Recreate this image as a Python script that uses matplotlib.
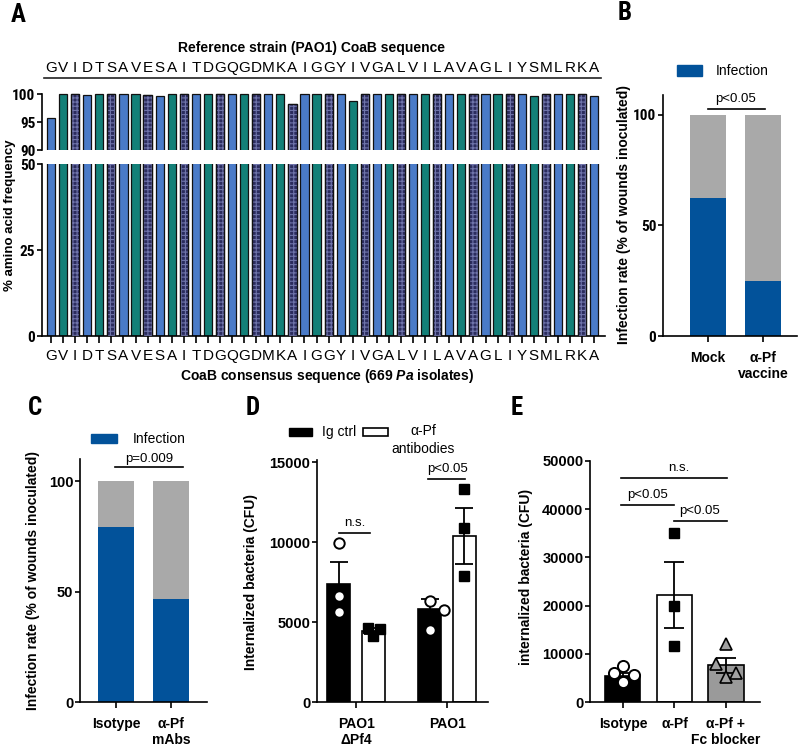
import matplotlib
matplotlib.use('Agg')
import matplotlib.pyplot as plt
from matplotlib.patches import Rectangle
from matplotlib.transforms import blended_transform_factory
from matplotlib import font_manager as fm
import numpy as np

plt.rcParams['font.family'] = ['Liberation Sans', 'DejaVu Sans']
plt.rcParams['font.weight'] = 'bold'
plt.rcParams['mathtext.fontset'] = 'custom'
plt.rcParams['mathtext.it'] = 'Liberation Sans:italic:bold'
plt.rcParams['mathtext.rm'] = 'Liberation Sans:bold'
plt.rcParams['hatch.linewidth'] = 0.8
plt.rcParams['axes.linewidth'] = 1.2

_avail = {f.name for f in fm.fontManager.ttflist}
NARROW = None
for cand in ['Liberation Sans Narrow', 'Roboto Condensed', 'Noto Sans Condensed',
             'Open Sans Condensed', 'DejaVu Sans Condensed']:
    if cand in _avail:
        NARROW = cand
        break
if NARROW is not None:
    NARROW_FAM = [NARROW, 'Liberation Sans', 'DejaVu Sans']
    NARROW_FS = 11
else:
    NARROW_FAM = ['Liberation Sans', 'DejaVu Sans']
    NARROW_FS = 9.5
REG_FAM = ['Liberation Sans', 'DejaVu Sans']

# ---------------- data ----------------
coab_sequence = list("GVIDTSAVESAITDGQGDMKAIGGYIVGALVILAVAGLIYSMLRKA")
aa_frequency = [95.8, 100, 100, 99.8, 100, 100, 100, 100, 99.8, 99.6,
                100, 100, 100, 100, 100, 100, 100, 100, 100, 100,
                98.2, 100, 100, 100, 100, 98.8, 100, 100, 100, 100,
                100, 100, 100, 100, 100, 100, 100, 100, 100, 100,
                99.7, 100, 100, 100, 100, 99.7]

b_groups = ['Mock', 'α-Pf\nvaccine']
b_infection = [62.5, 25.0]

c_groups = ['Isotype', 'α-Pf\nmAbs']
c_infection = [79.3, 46.7]

d_groups = ['PAO1\nΔPf4', 'PAO1']
d_ctrl_mean = [7400, 5800]
d_ctrl_sem = [1350, 650]
d_ctrl_points = [[9950, 6650, 5600], [6300, 5750, 4500]]
d_apf_mean = [4450, 10400]
d_apf_sem = [200, 1750]
d_apf_points = [[4650, 4550, 4150], [13300, 10900, 7900]]

e_groups = ['Isotype', 'α-Pf', 'α-Pf +\nFc blocker']
e_mean = [5300, 22100, 7600]
e_sem = [700, 6850, 1550]
e_points = [[7400, 6000, 5600, 4150], [35000, 20000, 11600], [12100, 7800, 6000, 5200]]

# ---------------- layout helpers ----------------
W, H = 800, 747
fig = plt.figure(figsize=(W / 100, H / 100), dpi=100)


def add_ax(x0, y0, x1, y1):
    return fig.add_axes([x0 / W, 1 - y1 / H, (x1 - x0) / W, (y1 - y0) / H])


def ftext(x, y, s, **kw):
    kw.setdefault('ha', 'center')
    kw.setdefault('va', 'center')
    return fig.text(x / W, 1 - y / H, s, **kw)


def frect(x0, y0, x1, y1, **kw):
    fig.add_artist(Rectangle((x0 / W, 1 - y1 / H), (x1 - x0) / W, (y1 - y0) / H,
                             transform=fig.transFigure, **kw))


def style_ax(ax, fam=None, fs=None):
    fam = NARROW_FAM if fam is None else fam
    fs = NARROW_FS if fs is None else fs
    for s in ('top', 'right'):
        ax.spines[s].set_visible(False)
    ax.tick_params(axis='both', width=1.2, direction='out')
    ax.tick_params(axis='y', pad=1.0, length=3.8, labelsize=fs, labelfontfamily=fam[0])
    ax.tick_params(axis='x', pad=6, labelsize=10, length=4.5)


BLUE_A = '#4a7bc8'
TEAL_A = '#138078'
CHECK_BG = '#2b2c5e'
CHECK_FG = '#6f74ab'
INF_BLUE = '#02529a'
GRAY = '#a9a9a9'

# ---------------- Panel A ----------------
x = np.arange(len(coab_sequence))
axT = add_ax(42, 93, 605, 150)
axB = add_ax(42, 164, 605, 336)
bw = 0.68
face = [BLUE_A if i % 3 == 0 else (TEAL_A if i % 3 == 1 else CHECK_BG) for i in x]
chk = [i for i in x if i % 3 == 2]
for ax in (axT, axB):
    ax.bar(x, aa_frequency, width=bw, color=face, edgecolor='#111111', linewidth=0.9, zorder=2)
    ax.bar(chk, [aa_frequency[i] for i in chk], width=bw, color=CHECK_BG,
           edgecolor=CHECK_FG, hatch='++++', linewidth=0, zorder=3)
    ax.bar(chk, [aa_frequency[i] for i in chk], width=bw, fill=False,
           edgecolor='#111111', linewidth=0.9, zorder=4)
    ax.set_xlim(-0.75, 45.9)

axT.set_ylim(90, 100.18)
axT.spines['left'].set_bounds(90, 100)
axT.spines['bottom'].set_visible(False)
axT.set_xticks([])
axT.set_yticks([90, 95, 100])
style_ax(axT)

axB.set_ylim(0, 50)
axB.set_yticks([0, 25, 50])
axB.set_xticks(x)
axB.set_xticklabels(coab_sequence, fontweight='normal')
style_ax(axB)
axB.tick_params(axis='x', length=5, pad=4, labelsize=11)

trT = blended_transform_factory(axT.transData, fig.transFigure)
for i, aa in enumerate(coab_sequence):
    axT.text(i, 1 - 68 / H, aa, transform=trT, ha='center', va='center',
             fontsize=11, fontweight='normal')
axT.plot([-0.6, 45.6], [1 - 78 / H, 1 - 78 / H], transform=trT, color='#222222',
         lw=1.2, clip_on=False)

ftext(18, 15, 'A', fontsize=18, family=NARROW_FAM)
ftext(312, 48, 'Reference strain (PAO1) CoaB sequence', fontsize=10)
ftext(327, 376, r'CoaB consensus sequence (669 $\it{Pa}$ isolates)', fontsize=10)
ftext(10, 215, '% amino acid frequency', fontsize=9.5, rotation=90)

# ---------------- Panel B ----------------
axBb = add_ax(663, 95, 797, 336)
xb = np.arange(len(b_groups))
axBb.bar(xb, b_infection, width=0.67, color=INF_BLUE, zorder=2)
axBb.bar(xb, [100 - v for v in b_infection], bottom=b_infection, width=0.67, color=GRAY, zorder=2)
axBb.set_xlim(-0.818, 1.62)
axBb.set_ylim(0, 109)
axBb.set_yticks([0, 50, 100])
axBb.set_xticks(xb)
axBb.set_xticklabels(b_groups, linespacing=1.25)
style_ax(axBb)
axBb.plot([0, 1.04], [102.8, 102.8], color='black', lw=1.2, clip_on=False)
axBb.text(0.5, 104.5, 'p<0.05', ha='center', va='bottom', fontsize=9.5, fontweight='normal')
frect(677, 65, 702, 76, color=INF_BLUE)
ftext(716, 71, 'Infection', ha='left', fontsize=10, fontweight='normal')
ftext(625, 13, 'B', fontsize=18, family=NARROW_FAM)
ftext(624, 215, 'Infection rate (% of wounds inoculated)', fontsize=10, rotation=90)

# ---------------- Panel C ----------------
axC = add_ax(80, 459, 207, 702)
xc = np.arange(len(c_groups))
axC.bar(xc, c_infection, width=0.65, color=INF_BLUE, zorder=2)
axC.bar(xc, [100 - v for v in c_infection], bottom=c_infection, width=0.65, color=GRAY, zorder=2)
axC.set_xlim(-0.655, 1.655)
axC.set_ylim(0, 110)
axC.set_yticks([0, 50, 100])
axC.set_xticks(xc)
axC.set_xticklabels(c_groups, linespacing=1.25)
style_ax(axC, REG_FAM, 10.5)
axC.plot([-0.02, 1.22], [106.3, 106.3], color='black', lw=1.2, clip_on=False)
axC.text(0.6, 107.5, 'p=0.009', ha='center', va='bottom', fontsize=9.5, fontweight='normal')
frect(91, 434, 117, 443, color=INF_BLUE)
ftext(133, 439, 'Infection', ha='left', fontsize=10, fontweight='normal')
ftext(35, 408, 'C', fontsize=18, family=NARROW_FAM)
ftext(33, 580, 'Infection rate (% of wounds inoculated)', fontsize=10, rotation=90)

# ---------------- Panel D ----------------
axD = add_ax(317, 460, 488, 702)
xd = np.arange(len(d_groups))
off = 0.19
dw = 0.255
axD.bar(xd - off, d_ctrl_mean, width=dw, color='black', edgecolor='black', lw=1.2, zorder=2)
axD.bar(xd + off, d_apf_mean, width=dw, color='white', edgecolor='black', lw=1.2, zorder=2)
axD.errorbar(xd - off, d_ctrl_mean, yerr=d_ctrl_sem, fmt='none', ecolor='black',
             elinewidth=1.3, capsize=6.5, capthick=1.3, zorder=3)
axD.errorbar(xd + off, d_apf_mean, yerr=d_apf_sem, fmt='none', ecolor='black',
             elinewidth=1.3, capsize=6.5, capthick=1.3, zorder=3)
ctrl_jit = [[0, 0, 0], [0, 0.154, 0]]
apf_jit = [[-0.06, 0.07, 0], [0, 0, 0]]
for g in range(len(d_groups)):
    axD.plot([g - off + j for j in ctrl_jit[g]], d_ctrl_points[g], 'o', ms=7.5, mfc='white',
             mec='black', mew=1.4, zorder=4, clip_on=False)
    axD.plot([g + off + j for j in apf_jit[g]], d_apf_points[g], 's', ms=6.5, mfc='black',
             mec='black', zorder=4, clip_on=False)
axD.set_xlim(-0.43, 1.45)
axD.set_ylim(0, 15125)
axD.set_yticks([0, 5000, 10000, 15000])
axD.set_xticks(xd)
axD.set_xticklabels(d_groups, linespacing=1.25)
style_ax(axD, REG_FAM, 10.5)
axD.plot([-0.19, 0.15], [10550, 10550], color='black', lw=1.2)
axD.text(-0.01, 10800, 'n.s.', ha='center', va='bottom', fontsize=9.5, fontweight='normal')
axD.plot([0.79, 1.2], [13937, 13937], color='black', lw=1.2, clip_on=False)
axD.text(1.0, 14200, 'p<0.05', ha='center', va='bottom', fontsize=9.5, fontweight='normal')
frect(289, 428, 312, 436, color='black')
ftext(322, 432, 'Ig ctrl', ha='left', fontsize=10, fontweight='normal')
frect(363, 428, 388, 436, facecolor='white', edgecolor='black', lw=1.2)
ftext(423, 440, 'α-Pf\nantibodies', fontsize=10, fontweight='normal', linespacing=1.45)
ftext(253, 408, 'D', fontsize=18, family=NARROW_FAM)
ftext(251, 582, 'Internalized bacteria (CFU)', fontsize=10, rotation=90)

# ---------------- Panel E ----------------
axE = add_ax(590, 461, 760, 702)
xe = np.arange(len(e_groups))
e_face = ['black', 'white', '#9a9a9a']
axE.bar(xe, e_mean, width=0.68, color=e_face, edgecolor='black', lw=1.2, zorder=2)
axE.errorbar(xe, e_mean, yerr=e_sem, fmt='none', ecolor='black', elinewidth=1.3,
             capsize=7, capthick=1.3, zorder=3)
e_jit = [[0, -0.175, 0.21, 0], [0, 0, 0], [0, -0.19, 0.19, 0]]
e_mk = [dict(marker='o', ms=8, mfc='white', mec='black', mew=1.4),
        dict(marker='s', ms=7, mfc='black', mec='black'),
        dict(marker='^', ms=8.5, mfc='#a0a0a0', mec='black', mew=1.2)]
for g in range(len(e_groups)):
    axE.plot([g + j for j in e_jit[g]], e_points[g], ls='none', zorder=4, **e_mk[g])
axE.set_xlim(-0.64, 2.66)
axE.set_ylim(0, 50000)
axE.set_yticks([0, 10000, 20000, 30000, 40000, 50000])
axE.set_xticks(xe)
axE.set_xticklabels(e_groups, linespacing=1.25)
style_ax(axE, REG_FAM, 10.5)
axE.plot([-0.04, 2.02], [46473, 46473], color='black', lw=1.2)
axE.text(1.09, 47200, 'n.s.', ha='center', va='bottom', fontsize=9.5, fontweight='normal')
axE.plot([-0.04, 0.99], [40871, 40871], color='black', lw=1.2)
axE.text(0.48, 41700, 'p<0.05', ha='center', va='bottom', fontsize=9.5, fontweight='normal')
axE.plot([0.99, 2.02], [37552, 37552], color='black', lw=1.2)
axE.text(1.49, 38400, 'p<0.05', ha='center', va='bottom', fontsize=9.5, fontweight='normal')
ftext(517, 408, 'E', fontsize=18, family=NARROW_FAM)
ftext(526, 577, 'internalized bacteria (CFU)', fontsize=10, rotation=90)

fig.savefig('out.png', dpi=100)
